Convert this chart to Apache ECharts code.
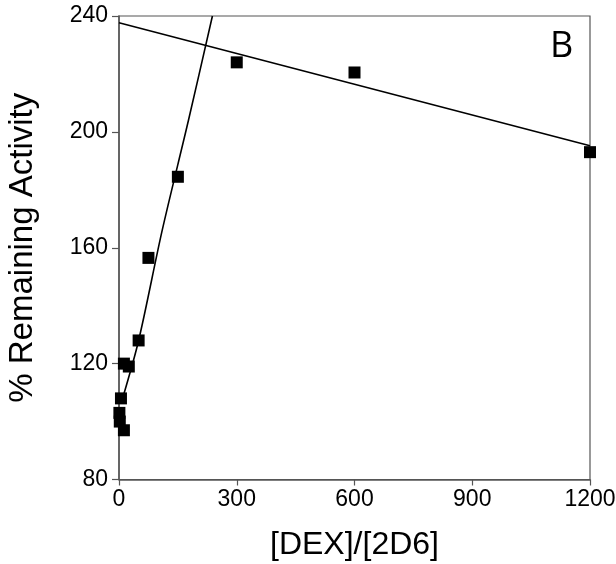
<!DOCTYPE html>
<html>
<head>
<meta charset="utf-8">
<script src="https://cdn.jsdelivr.net/npm/echarts@6/dist/echarts.min.js"></script>
<style>
  html, body { margin: 0; padding: 0; background: #fff; }
  #chart { width: 616px; height: 564px; }
</style>
</head>
<body>
<div id="chart"></div>
<script>
// Measured points: DEX-to-2D6 ratio vs. remaining activity (%)
const ratio    = [1, 2, 5, 12.5, 12.5, 25, 50, 75, 150, 300, 600, 1200];
const activity = [103, 100, 108, 97, 120, 119, 128, 156.5, 184.5, 224, 220.5, 193];

// Fitted trend through the low-ratio points (steep rise)
const steepFitX = [8, 50, 110, 177, 238];
const steepFitY = [107.5, 128, 166, 204, 240];

// Fitted trend through the high-ratio points (slow decline)
const shallowFitX = [0, 1200];
const shallowFitY = [237.7, 195.2];

// Axis ticks
const xTicks = { min: 0, max: 1200, interval: 300 };
const yTicks = { min: 80, max: 240, interval: 40 };

const zip = (xs, ys) => xs.map((x, i) => [x, ys[i]]);

const axisGray = '#555';
const labelFont = 'Liberation Sans, Arial, sans-serif';

const chart = echarts.init(document.getElementById('chart'), null, { renderer: 'canvas' });
chart.setOption({
  backgroundColor: '#fff',
  animation: false,
  grid: {
    left: 119, right: 26, top: 16, bottom: 84.5,
    outerBoundsMode: 'none',
    containLabel: false,
    show: true, borderColor: axisGray, borderWidth: 1.2, backgroundColor: 'transparent'
  },
  xAxis: {
    type: 'value',
    min: xTicks.min, max: xTicks.max, interval: xTicks.interval,
    name: '[DEX]/[2D6]',
    nameLocation: 'middle',
    nameGap: 50,
    nameTextStyle: { fontFamily: labelFont, fontSize: 32, color: '#000' },
    axisLine: { show: true, lineStyle: { color: axisGray, width: 1.5 } },
    axisTick: { show: true, length: 6, lineStyle: { color: axisGray, width: 1.2 } },
    axisLabel: {
      fontFamily: labelFont, fontSize: 23, color: '#000', margin: 9,
      formatter: v => String(v)
    },
    splitLine: { show: false }
  },
  yAxis: {
    type: 'value',
    min: yTicks.min, max: yTicks.max, interval: yTicks.interval,
    name: '% Remaining Activity',
    nameLocation: 'middle',
    nameGap: 80,
    nameRotate: 90,
    nameTextStyle: { fontFamily: labelFont, fontSize: 33, color: '#000' },
    axisLine: { show: true, lineStyle: { color: axisGray, width: 1.5 } },
    axisTick: { show: true, length: 7, lineStyle: { color: axisGray, width: 1.2 } },
    axisLabel: { fontFamily: labelFont, fontSize: 23, color: '#000', margin: 11 },
    splitLine: { show: false }
  },
  graphic: [{
    type: 'text',
    x: 550, y: 47,
    style: {
      text: 'B', font: '36px "Open Sans", sans-serif', fill: '#000',
      align: 'left', verticalAlign: 'middle'
    }
  }],
  series: [
    {
      type: 'line',
      data: zip(steepFitX, steepFitY),
      showSymbol: false,
      smooth: 0.3,
      lineStyle: { color: '#000', width: 1.6 },
      clip: true,
      z: 2
    },
    {
      type: 'line',
      data: zip(shallowFitX, shallowFitY),
      showSymbol: false,
      lineStyle: { color: '#000', width: 1.6 },
      clip: true,
      z: 2
    },
    {
      type: 'scatter',
      data: zip(ratio, activity),
      symbol: 'rect',
      symbolSize: 12,
      itemStyle: { color: '#000', opacity: 1 },
      clip: false,
      z: 3
    }
  ]
});
</script>
</body>
</html>
